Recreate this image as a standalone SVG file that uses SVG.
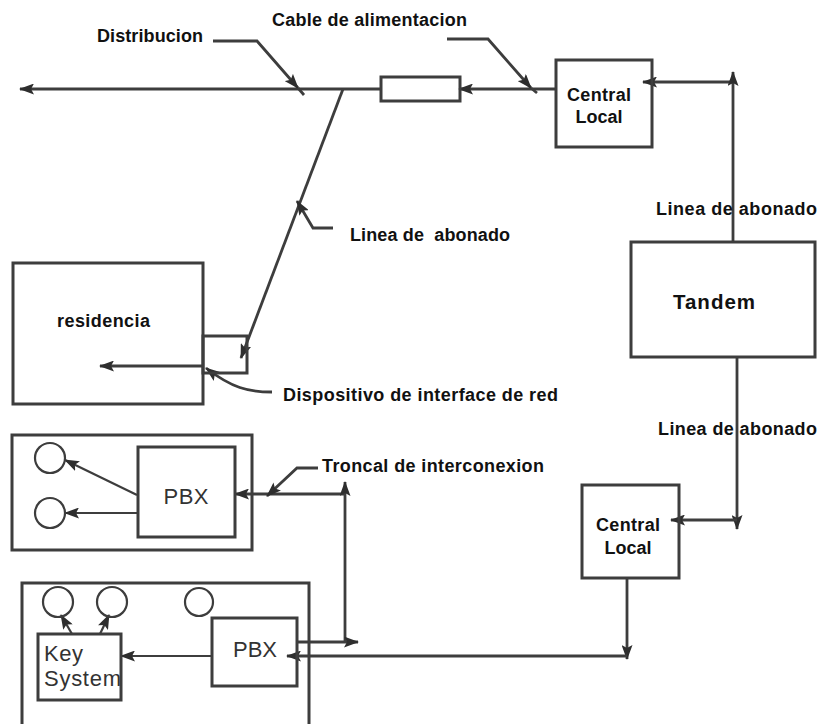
<svg xmlns="http://www.w3.org/2000/svg" width="822" height="724" viewBox="0 0 822 724">
<style>
.box{fill:none;stroke:#3d3d3d;stroke-width:3}
.ln{fill:none;stroke:#3d3d3d;stroke-width:2.8}
.thin{fill:none;stroke:#3d3d3d;stroke-width:2.2}
.ci{fill:none;stroke:#3d3d3d;stroke-width:2.2}
.lbl{font-family:"Liberation Sans",Arial,sans-serif;font-weight:bold;font-size:18px;fill:#111}
.nd{font-family:"Liberation Sans",Arial,sans-serif;font-weight:bold;font-size:18px;fill:#111}
.big{font-size:20.5px}
.pbx{font-family:"Liberation Sans",Arial,sans-serif;font-size:22px;fill:#333}
</style>
<defs>
<marker id="ah" markerUnits="userSpaceOnUse" markerWidth="15" markerHeight="11" refX="14" refY="5.5" orient="auto">
<path d="M0,0 L15,5.5 L0,11 L3,5.5 z" fill="#2e2e2e"/>
</marker>
</defs>
<rect width="822" height="724" fill="#fff"/>

<g id="connectors">
<line class="ln" x1="381" y1="89" x2="20" y2="89" marker-end="url(#ah)"/>
<line class="ln" x1="556" y1="89" x2="459" y2="89" marker-end="url(#ah)"/>
<line class="ln" x1="343" y1="89" x2="241" y2="358" marker-end="url(#ah)"/>
<line class="ln" x1="203" y1="366" x2="100" y2="366" marker-end="url(#ah)"/>
<line class="ln" x1="733" y1="82" x2="643" y2="82" marker-end="url(#ah)"/>
<line class="ln" x1="733" y1="242" x2="733" y2="72" marker-end="url(#ah)"/>
<line class="ln" x1="737" y1="357" x2="737" y2="529" marker-end="url(#ah)"/>
<line class="ln" x1="737" y1="520" x2="671" y2="520" marker-end="url(#ah)"/>
<line class="ln" x1="627" y1="578" x2="627" y2="659" marker-end="url(#ah)"/>
<line class="ln" x1="627" y1="656" x2="287" y2="656" marker-end="url(#ah)"/>
<line class="ln" x1="345" y1="494" x2="235" y2="494" marker-end="url(#ah)"/>
<line class="ln" x1="345" y1="642" x2="345" y2="482" marker-end="url(#ah)"/>
<line class="ln" x1="297" y1="642" x2="358" y2="642" marker-end="url(#ah)"/>
<line class="thin" x1="137" y1="495" x2="65" y2="460" marker-end="url(#ah)"/>
<line class="thin" x1="137" y1="513" x2="65" y2="513" marker-end="url(#ah)"/>
<line class="thin" x1="212" y1="656" x2="121" y2="656" marker-end="url(#ah)"/>
<line class="thin" x1="72" y1="634" x2="61" y2="615" marker-end="url(#ah)"/>
<line class="thin" x1="100" y1="634" x2="109" y2="615" marker-end="url(#ah)"/>
<path class="ln" d="M213,41 L257,41 L298,88" marker-end="url(#ah)"/>
<line class="ln" x1="298" y1="88" x2="304" y2="95"/>
<path class="ln" d="M447,39 L488,39 L531,88" marker-end="url(#ah)"/>
<line class="ln" x1="531" y1="88" x2="537" y2="93"/>
<path class="ln" d="M333,228 L313,228 L297,201" marker-end="url(#ah)"/>
<path class="ln" d="M272,392 C248,392 232,388 206,368" marker-end="url(#ah)"/>
<path class="ln" d="M318,468 L297,468 L267,496" marker-end="url(#ah)"/>
</g>

<g id="filter">
<rect class="box" x="381" y="77" width="79" height="24" fill="#fff"/>
</g>

<g id="central-local-1">
<rect class="box" x="556" y="60" width="96" height="87"/>
<text class="nd" x="599" y="101" text-anchor="middle" textLength="64">Central</text>
<text class="nd" x="599" y="123" text-anchor="middle" textLength="47">Local</text>
</g>

<g id="tandem">
<rect class="box" x="631" y="242" width="184" height="115"/>
<text class="nd big" x="714" y="309" text-anchor="middle" textLength="82">Tandem</text>
</g>

<g id="central-local-2">
<rect class="box" x="582" y="485" width="97" height="93"/>
<text class="nd" x="628" y="531" text-anchor="middle" textLength="64">Central</text>
<text class="nd" x="628" y="554" text-anchor="middle" textLength="47">Local</text>
</g>

<g id="residencia">
<rect class="box" x="13" y="263" width="190" height="141"/>
<text class="lbl" x="57" y="327" textLength="93">residencia</text>
</g>

<g id="interfaz">
<rect class="box" x="203" y="336" width="44" height="37"/>
</g>

<g id="pbx-site-1">
<rect class="box" x="12" y="435" width="240" height="115"/>
<rect class="box" x="138" y="447" width="97" height="90"/>
<text class="pbx" x="186" y="504" text-anchor="middle" textLength="45">PBX</text>
<circle class="ci" cx="50" cy="458" r="15"/>
<circle class="ci" cx="50" cy="513" r="15"/>
</g>

<g id="pbx-site-2">
<rect class="box" x="22" y="583" width="287" height="150"/>
<rect class="box" x="212" y="618" width="85" height="68"/>
<text class="pbx" x="255" y="657" text-anchor="middle" textLength="44">PBX</text>
<rect class="box" x="38" y="634" width="83" height="66"/>
<text class="pbx" x="44" y="661" textLength="39">Key</text>
<text class="pbx" x="44" y="686" textLength="77">System</text>
<circle class="ci" cx="58" cy="602" r="15"/>
<circle class="ci" cx="112" cy="602" r="15"/>
<circle class="ci" cx="199" cy="602" r="14"/>
</g>

<g id="labels">
<text class="lbl" x="97" y="42" textLength="106">Distribucion</text>
<text class="lbl" x="272" y="26" textLength="195">Cable de alimentacion</text>
<text class="lbl" x="350" y="241" textLength="160" xml:space="preserve">Linea de  abonado</text>
<text class="lbl" x="656" y="215" textLength="161">Linea de abonado</text>
<text class="lbl" x="658" y="435" textLength="159">Linea de abonado</text>
<text class="lbl" x="283" y="401" textLength="275">Dispositivo de interface de red</text>
<text class="lbl" x="322" y="472" textLength="222">Troncal de interconexion</text>
</g>
</svg>
